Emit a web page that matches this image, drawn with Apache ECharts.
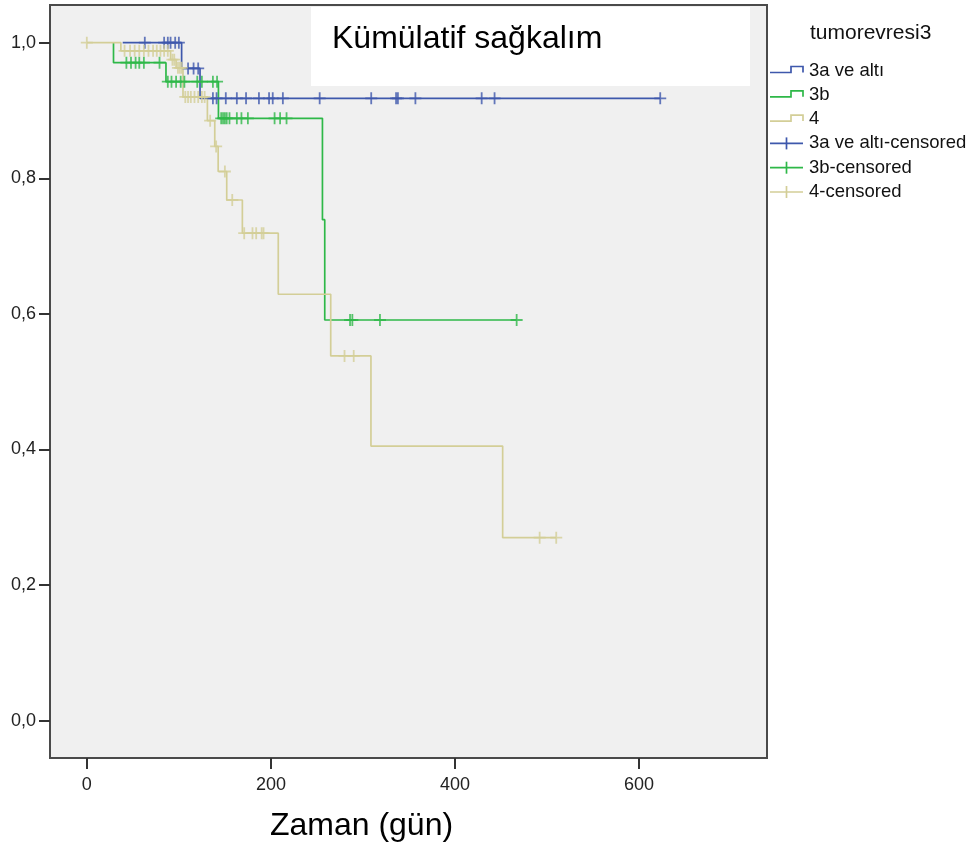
<!DOCTYPE html>
<html>
<head>
<meta charset="utf-8">
<script src="https://cdn.jsdelivr.net/npm/echarts@6/dist/echarts.min.js"></script>
<style>
  html, body { margin: 0; padding: 0; background: #ffffff; }
  #chart { width: 978px; height: 850px; }
</style>
</head>
<body>
<div id="chart"></div>
<script>
// Group labels and texts
const groupNames = ['3a ve altı', '3b', '4'];
const censorNames = ['3a ve altı-censored', '3b-censored', '4-censored'];
const legendTitle = 'tumorevresi3';
const chartTitle = 'Kümülatif sağkalım';
const xAxisTitle = 'Zaman (gün)';
const xTickValues = [0, 200, 400, 600];
const yTickValues = [0, 0.2, 0.4, 0.6, 0.8, 1.0];

// Kaplan-Meier step curves: time (days) and cumulative survival from that time on
const timesA = [39, 103, 123, 623];
const survA = [1, 0.962, 0.918, 0.918];
const timesB = [29, 29, 86, 143, 256, 258.5, 467];
const survB = [1, 0.9705, 0.9425, 0.8885, 0.739, 0.591, 0.591];
const times4 = [0, 37, 91, 97, 104.5, 131, 139, 142.7, 152, 169, 208, 265, 308.7, 451.8, 510];
const surv4 = [1, 0.988, 0.975, 0.963, 0.92, 0.885, 0.847, 0.81, 0.768, 0.719, 0.629, 0.538, 0.405, 0.27, 0.27];

// Censored observation times (days)
const censA = [63, 84, 88, 91, 96, 100, 110, 116, 121, 137, 141, 151, 163, 173, 187, 198, 202, 213, 253, 309, 336, 338, 357, 429, 443, 623];
const censB = [43, 48, 53, 57, 62, 79, 88, 92, 97, 102, 106, 120, 125, 137, 141.5, 146, 148, 150, 152, 155, 163, 168, 175, 204, 210, 217, 286, 288.5, 318.5, 467];
const cens4 = [0, 41, 47, 52, 57, 62, 67, 72, 76, 80, 84, 88, 93, 95, 99, 101, 103, 107, 110, 113, 117, 121, 125, 128, 134, 140.5, 150, 158, 171, 180, 184, 190, 192, 280, 290, 492, 510];

const colors = ['#3E58AC', '#2EB848', '#D3CE97'];

// survival level of a curve at a given time
function survAt(times, surv, t) {
  let s = surv[0];
  for (let i = 0; i < times.length; i++) {
    if (times[i] <= t) s = surv[i];
  }
  return s;
}

const curves = [[timesA, survA, censA], [timesB, survB, censB], [times4, surv4, cens4]];

const lineSeries = curves.map(([t, s], i) => ({
  name: groupNames[i],
  type: 'line',
  step: 'end',
  symbol: 'none',
  silent: true,
  data: t.map((v, k) => [v, s[k]]),
  lineStyle: { color: colors[i], width: 1.7 },
  z: 2
}));

const censorSeries = curves.map(([t, s, c], i) => ({
  name: censorNames[i],
  type: 'scatter',
  symbol: 'path://M0 6H12M6 0V12',
  symbolSize: 12,
  silent: true,
  data: c.map(v => [v, survAt(t, s, v)]),
  itemStyle: { color: colors[i], borderColor: colors[i], borderWidth: 1.8 },
  z: 3
}));

// legend drawn as graphic elements
const fontFam = '"Liberation Sans", Arial, sans-serif';
const legendFont = '18.5px ' + fontFam;
const legendGraphics = [{
  type: 'text', x: 810, y: 33,
  style: { text: legendTitle, font: '21px ' + fontFam, fill: '#111', verticalAlign: 'middle' }
}];
const rowY = [70.5, 94.8, 119.1, 143.4, 167.7, 192];
groupNames.forEach((n, i) => {
  const y = rowY[i];
  legendGraphics.push({
    type: 'polyline',
    shape: { points: [[770, y + 2], [791, y + 2], [791, y - 4], [803, y - 4], [803, y + 2]] },
    style: { stroke: colors[i], lineWidth: 1.7, fill: null }
  });
  legendGraphics.push({
    type: 'text', x: 809, y: y,
    style: { text: n, font: legendFont, fill: '#111', verticalAlign: 'middle' }
  });
});
censorNames.forEach((n, i) => {
  const y = rowY[i + 3];
  legendGraphics.push({
    type: 'line', shape: { x1: 770, y1: y, x2: 803, y2: y },
    style: { stroke: colors[i], lineWidth: 1.7 }
  });
  legendGraphics.push({
    type: 'line', shape: { x1: 786.5, y1: y - 6, x2: 786.5, y2: y + 6 },
    style: { stroke: colors[i], lineWidth: 1.7 }
  });
  legendGraphics.push({
    type: 'text', x: 809, y: y,
    style: { text: n, font: legendFont, fill: '#111', verticalAlign: 'middle' }
  });
});

const chart = echarts.init(document.getElementById('chart'), null, { renderer: 'canvas' });
chart.setOption({
  animation: false,
  backgroundColor: '#ffffff',
  grid: {
    left: 50, right: 211, top: 5, bottom: 92,
    show: true, backgroundColor: '#f0f0f0',
    borderColor: '#4a4a4a', borderWidth: 2,
    containLabel: false, outerBoundsMode: 'none'
  },
  xAxis: {
    type: 'value', min: -40, max: 739,
    axisLine: { show: false, onZero: false },
    axisTick: { show: true, customValues: xTickValues, length: 11, lineStyle: { color: '#333', width: 2 } },
    axisLabel: { customValues: xTickValues, margin: 18, fontSize: 18, color: '#222', fontFamily: fontFam },
    splitLine: { show: false },
    name: xAxisTitle,
    nameLocation: 'middle',
    nameGap: 52,
    nameTextStyle: { fontSize: 32, color: '#000', fontFamily: fontFam, padding: [0, 94, 0, 0] }
  },
  yAxis: {
    type: 'value', min: -0.055, max: 1.0556,
    axisLine: { show: false, onZero: false },
    axisTick: { show: true, customValues: yTickValues, length: 11, lineStyle: { color: '#333', width: 2 } },
    axisLabel: {
      customValues: yTickValues, margin: 14, fontSize: 18, color: '#222',
      fontFamily: fontFam,
      formatter: v => v.toFixed(1).replace('.', ',')
    },
    splitLine: { show: false }
  },
  graphic: [
    {
      type: 'rect', shape: { x: 311, y: 7, width: 439, height: 79 },
      style: { fill: '#ffffff' }, z: 10
    },
    {
      type: 'text', x: 332, y: 39, z: 11,
      style: { text: chartTitle, font: '32px ' + fontFam, fill: '#000', verticalAlign: 'middle' }
    },
    ...legendGraphics
  ],
  series: [...lineSeries, ...censorSeries]
});
</script>
</body>
</html>
